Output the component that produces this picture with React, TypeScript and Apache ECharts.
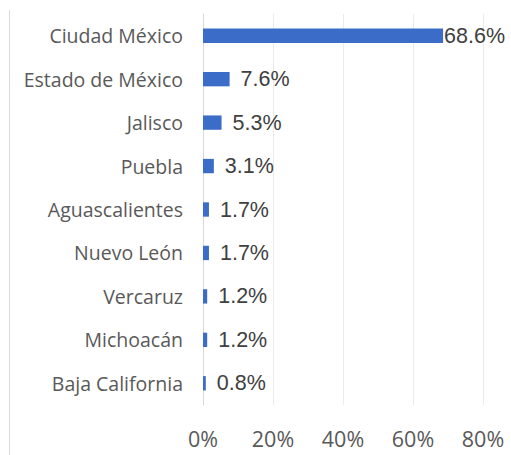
import React, { useEffect, useRef } from "react";
import * as echarts from "echarts";

const categories = [
  "Ciudad México",
  "Estado de México",
  "Jalisco",
  "Puebla",
  "Aguascalientes",
  "Nuevo León",
  "Vercaruz",
  "Michoacán",
  "Baja California",
];
const values = [68.6, 7.6, 5.3, 3.1, 1.7, 1.7, 1.2, 1.2, 0.8];

export default function App() {
  const ref = useRef<HTMLDivElement>(null);
  useEffect(() => {
    if (!ref.current) return;
    const chart = echarts.init(ref.current, null, { renderer: "svg" });
    chart.setOption({
      animation: false,
      backgroundColor: "#ffffff",
      grid: { left: 203, right: 28, top: 14, bottom: 50, containLabel: false },
      xAxis: {
        type: "value",
        min: 0,
        max: 80,
        interval: 20,
        axisLine: { show: false },
        axisTick: { show: false },
        splitLine: { lineStyle: { color: "#ebebeb", width: 1 } },
        axisLabel: {
          formatter: "{value}%",
          color: "#595959",
          fontFamily: "Open Sans",
          fontSize: 21.5,
          margin: 22,
        },
      },
      yAxis: {
        type: "category",
        data: categories,
        inverse: true,
        axisLine: { show: true, lineStyle: { color: "#d9d9d9", width: 1 } },
        axisTick: { show: false },
        axisLabel: {
          color: "#595959",
          fontFamily: "Open Sans",
          fontSize: 19.5,
          margin: 20,
        },
      },
      series: [
        {
          type: "bar",
          data: values.map((v, i) => ({
            value: v,
            label: { distance: i === 0 ? 1 : 11 },
          })),
          barWidth: "33%",
          itemStyle: { color: "#3a6cc8" },
          label: {
            show: true,
            position: "right",
            formatter: (p: any) => p.value.toFixed(1) + "%",
            color: "#404040",
            fontFamily: "Liberation Sans",
            fontSize: 21.5,
          },
        },
      ],
      graphic: [
        {
          type: "line",
          shape: { x1: 9.5, y1: 10, x2: 9.5, y2: 455 },
          style: { stroke: "#d9d9d9", lineWidth: 1 },
        },
      ],
    });
    return () => chart.dispose();
  }, []);
  return <div ref={ref} style={{ width: 511, height: 455, position: "absolute", left: 0, top: 0 }} />;
}
